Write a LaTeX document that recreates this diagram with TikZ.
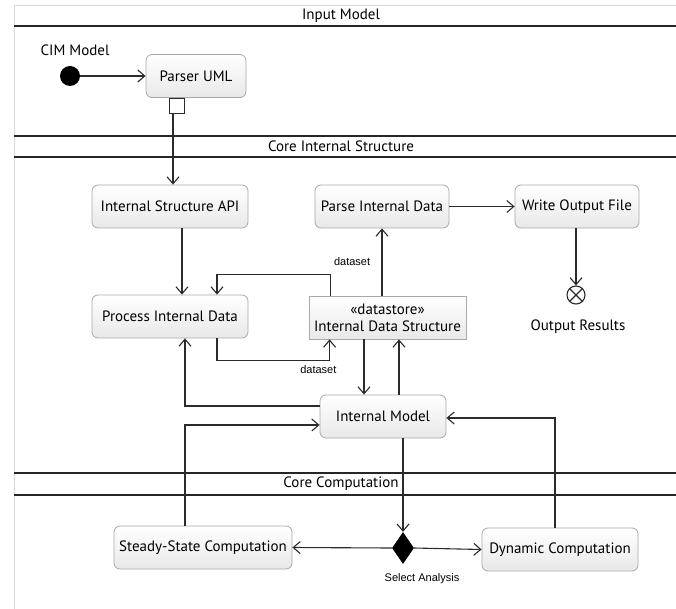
\documentclass[tikz,border=0pt]{standalone}
\usepackage{fontspec}
\setmainfont{PT Sans}
\newfontfamily\smallfont{Liberation Sans}
\usetikzlibrary{arrows.meta,shapes.geometric}
\definecolor{linec}{HTML}{2B2B2B}
\definecolor{boxb}{HTML}{A8A8A8}
\tikzset{
  box/.style={draw=boxb, line width=0.8pt, rounded corners=6pt, top color=white, bottom color=black!9,
    minimum height=43pt, inner sep=2pt, font=\fontsize{15}{17}\selectfont, align=center},
  store/.style={draw=boxb, line width=0.8pt, top color=white, bottom color=black!9,
    minimum height=43pt, inner sep=2pt, font=\fontsize{15}{17}\selectfont, align=center},
  arr/.style={draw=linec, line width=1.1pt, -{Straight Barb[length=7pt,width=12pt,line width=1.1pt]}},
  ln/.style={draw=linec, line width=1.1pt},
  sep/.style={draw=black!85, line width=1.1pt},
  hdr/.style={font=\fontsize{15}{17}\selectfont},
  lbl/.style={font=\smallfont\fontsize{11}{13}\selectfont},
}
\begin{document}
\begin{tikzpicture}[x=1pt,y=-1pt]
\useasboundingbox (0,0) rectangle (676,609);
% frame
\draw[black!15, line width=0.8pt] (14,609) -- (14,5) -- (676,5);
\draw[sep] (14,26) -- (676,26);
\draw[sep] (14,136) -- (676,136);
\draw[sep] (14,157) -- (676,157);
\draw[sep] (14,473) -- (676,473);
\draw[sep] (14,495) -- (676,495);
\node[hdr] (h1) at (341,16) {Input Model};
\node[hdr] (h2) at (341,146.5) {Core Internal Structure};
\node[hdr] (h3) at (341,484) {Core Computation};

% nodes
\node[circle, fill=black, minimum size=20pt, inner sep=0pt] (start) at (70,76) {};
\node[hdr] (cim) at (75,50) {CIM Model};
\node[box, minimum width=100pt] (parser) at (196,76) {Parser UML};
\node[draw=linec, line width=0.9pt, fill=white, minimum size=15pt, inner sep=0pt, anchor=north] (pin) at (177,98) {};
\node[box, minimum width=156pt] (isa) at (170,206.5) {Internal Structure API};
\node[box, minimum width=156pt] (pid) at (170,316.5) {Process Internal Data};
\node[box, minimum width=134pt] (parse) at (382,206.5) {Parse Internal Data};
\node[box, minimum width=124pt] (write) at (577,206.5) {Write Output File};
\node[circle, draw=linec, line width=1.1pt, minimum size=18pt, inner sep=0pt] (final) at (576,295) {};
\draw[ln] (final.north west) -- (final.south east) (final.north east) -- (final.south west);
\node[hdr] (outres) at (578,327) {Output Results};
\node[store, minimum width=157pt] (ds) at (387.5,317.5) {«datastore»\\Internal Data Structure};
\node[box, minimum width=126pt] (im) at (383,416.5) {Internal Model};
\node[box, minimum width=178pt] (ss) at (203,547.5) {Steady-State Computation};
\node[diamond, fill=black, minimum width=22pt, minimum height=32pt, inner sep=0pt] (dec) at (403,548) {};
\node[lbl] (sel) at (422,579) {Select Analysis};
\node[box, minimum width=156pt] (dc) at (560,549.5) {Dynamic Computation};

% connectors
\draw[arr] (start) -- (parser);
\draw[arr] ([xshift=-4pt]pin.south) -- ([xshift=-4pt]pin.south |- isa.north);
\draw[arr] ([xshift=12pt]isa.south) -- ([xshift=12pt]pid.north);
\draw[arr] (parse) -- (write);
\draw[arr] (write.south -| final) -- (final.north);
\draw[arr] ([xshift=-5.5pt]ds.north) -- ([xshift=-5.5pt]ds.north |- parse.south)
  node[lbl, pos=0.5, left=8pt] (l1) {dataset};
\draw[arr] ([xshift=22pt]ds.north west) -- ++(0,-21) -| ([xshift=47pt]pid.north);
\draw[arr] ([xshift=47pt]pid.south) -- ++(0,22) -| ([xshift=21pt]ds.south west)
  node[lbl, pos=0.45, below=1pt] (l2) {dataset};
\draw[arr] ([xshift=-23.5pt]ds.south) -- ([xshift=-23.5pt]ds.south |- im.north);
\draw[arr] ([xshift=16pt]im.north) -- ([xshift=16pt]im.north |- ds.south);
\draw[arr] ([yshift=10.5pt]im.west) -| ([xshift=15pt]pid.south);
\draw[arr] ([xshift=-18pt]ss.north) |- ([yshift=-8.5pt]im.west);
\draw[arr] ([xshift=-5pt]dc.north) |- ([yshift=-1.5pt]im.east);
\draw[arr] (im.south -| dec.north) -- (dec.north);
\draw[arr] (dec.west) -- (ss.east);
\draw[arr] (dec.east) -- (dc.west);
\end{tikzpicture}
\end{document}
